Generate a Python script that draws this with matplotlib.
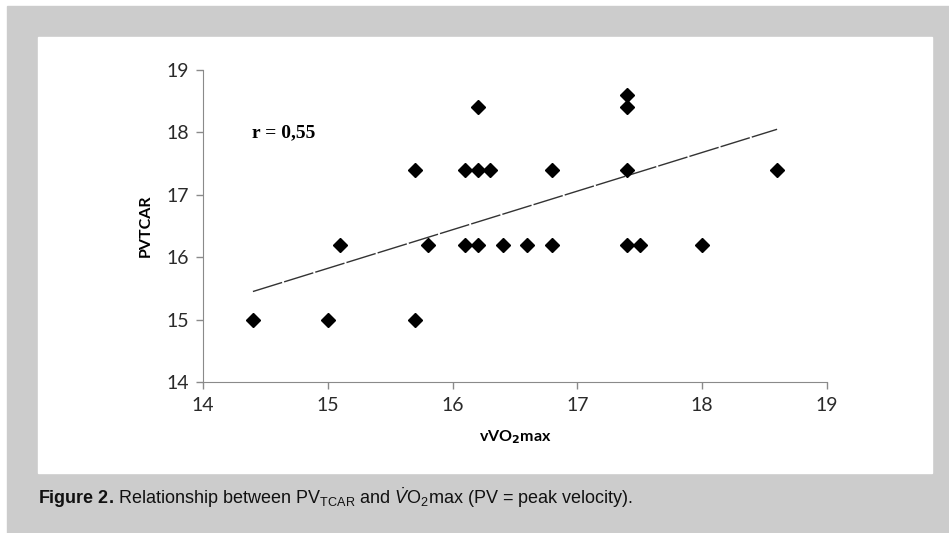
import numpy as np
import matplotlib
matplotlib.use("Agg")
import matplotlib.pyplot as plt
from matplotlib import font_manager as fm
from matplotlib.patches import Rectangle

# vVO2max (x) vs PVTCAR (y)
vvo2max = [14.4, 15.0, 15.1, 15.7, 15.7, 15.8, 16.1, 16.1, 16.2, 16.2, 16.2,
           16.3, 16.4, 16.6, 16.8, 16.8, 17.4, 17.4, 17.4, 17.4, 17.5, 18.0, 18.6]
pvtcar = [15.0, 15.0, 16.2, 17.4, 15.0, 16.2, 17.4, 16.2, 18.4, 17.4, 16.2,
          17.4, 16.2, 16.2, 17.4, 16.2, 18.6, 18.4, 17.4, 16.2, 16.2, 16.2, 17.4]
# trend line ends as drawn in the figure
trend_x = [14.4, 18.6]
trend_y = [15.45, 18.05]
xticks = [14, 15, 16, 17, 18, 19]
yticks = [14, 15, 16, 17, 18, 19]
r_text = "r = 0,55"

have = {f.name for f in fm.fontManager.ttflist}
narrow = "Liberation Sans Narrow" if "Liberation Sans Narrow" in have else "Liberation Sans"
tickfont = "Lato" if "Lato" in have else "DejaVu Sans"

plt.rcParams["mathtext.fontset"] = "custom"
plt.rcParams["mathtext.rm"] = narrow
plt.rcParams["mathtext.it"] = narrow + ":italic"
plt.rcParams["mathtext.bf"] = narrow + ":bold"

W, H = 949, 533
fig = plt.figure(figsize=(W / 100, H / 100), dpi=100, facecolor="white")
# grey frame + white panel (pixel coords -> figure fractions)
px = lambda x0, y0, x1, y1: (x0 / W, 1 - y1 / H, (x1 - x0) / W, (y1 - y0) / H)
x0, y0, w, h = px(7, 6, W, H)
fig.patches.append(Rectangle((x0, y0), w, h, transform=fig.transFigure, color="#cccccc", zorder=-3))
x0, y0, w, h = px(38, 37, 932, 473)
fig.patches.append(Rectangle((x0, y0), w, h, transform=fig.transFigure, color="white", zorder=-2))

ax = fig.add_axes(px(203, 70, 827, 382))
ax.set_zorder(2)
ax.patch.set_alpha(0)
ax.plot(vvo2max, pvtcar, "D", ms=7, color="black", zorder=3)
ax.plot(trend_x, trend_y, color="#333333", lw=1, dashes=(22, 1.5))

ax.set_xlim(14, 19); ax.set_ylim(14, 19)
ax.set_xticks(xticks); ax.set_yticks(yticks)
for s in ("top", "right"):
    ax.spines[s].set_visible(False)
for s in ("left", "bottom"):
    ax.spines[s].set_color("#8a8a8a")
ax.tick_params(colors="#8a8a8a", length=5, width=1, labelcolor="#2a2a2a", labelsize=14)
ax.tick_params(axis="x", pad=6)
ax.tick_params(axis="y", pad=5)
for lab in ax.get_xticklabels() + ax.get_yticklabels():
    lab.set_family(tickfont)

ax.set_xlabel(r"vVO$_\mathbf{2}$max", family=tickfont, fontweight="bold", fontsize=11.5,
              labelpad=10, math_fontfamily="dejavusans")
ax.set_ylabel("PVTCAR", family=tickfont, fontweight="bold", fontsize=11.5, labelpad=10)
ax.text(14.39, 18.0, r_text, family="Liberation Serif", fontweight="bold", fontsize=14,
        va="center", ha="left")

fig.text(38 / W, 1 - 498 / H,
         r"$\bf{Figure\ 2.\,}$Relationship between PV$_{\rm TCAR}$ and $\it{\dot{V}}$O$_2$max (PV = peak velocity).",
         family=narrow, fontsize=13, va="center", ha="left", color="#111111")

fig.savefig("out.png", dpi=100)
